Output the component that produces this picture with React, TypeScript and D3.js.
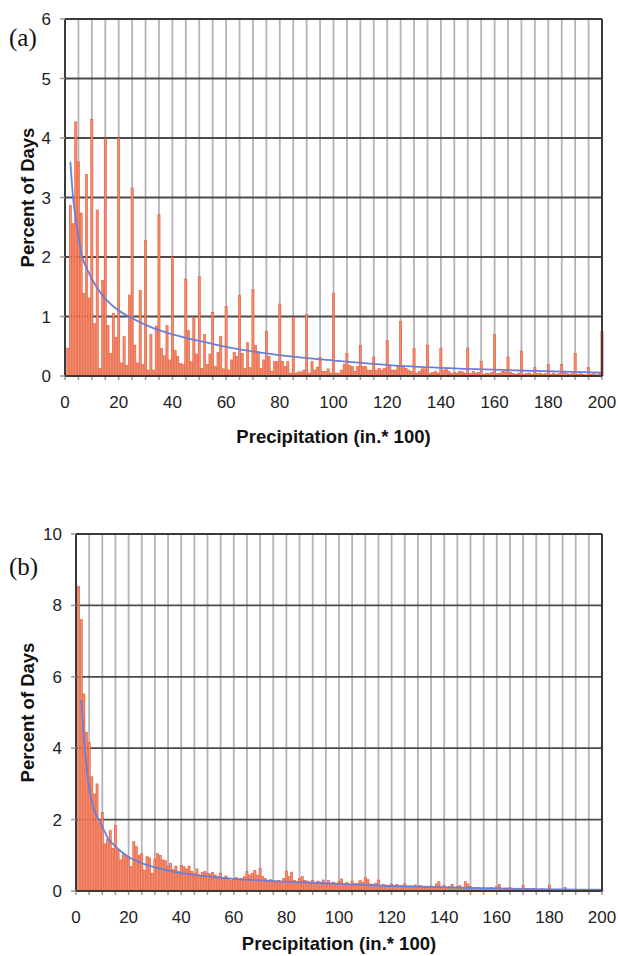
import React from 'react';
import * as d3 from 'd3';

// Precipitation amounts (in. * 100), categories 1..200
const amounts: number[] = d3.range(1, 201);

// Panel (a) percent of days per amount
const percentA: number[] = [
  0.47, 2.87, 2.56, 4.27, 3.6, 2.74, 1.39, 3.39, 1.31, 4.31,
  0.88, 2.79, 0.13, 1.61, 3.99, 0.85, 0.38, 1.05, 0.65, 4.0,
  0.22, 0.66, 0.18, 1.36, 3.16, 0.52, 0.22, 1.44, 0.19, 2.28,
  0.1, 0.7, 0.1, 0.84, 2.71, 0.46, 0.34, 0.85, 0.27, 2.0,
  0.43, 0.33, 0.21, 0.19, 1.63, 0.77, 0.24, 0.99, 0.37, 1.67,
  0.13, 0.7, 0.19, 0.37, 1.07, 0.16, 0.4, 0.66, 0.12, 1.17,
  0.1, 0.27, 0.4, 0.33, 1.35, 0.38, 0.13, 0.56, 0.14, 1.45,
  0.51, 0.41, 0.13, 0.27, 0.75, 0.33, 0.08, 0.24, 0.24, 1.21,
  0.24, 0.16, 0.24, 0.05, 0.99, 0.05, 0.07, 0.07, 0.1, 1.03,
  0.05, 0.24, 0.1, 0.15, 0.31, 0.08, 0.08, 0.12, 0.05, 1.39,
  0.05, 0.05, 0.1, 0.2, 0.38, 0.18, 0.16, 0.08, 0.16, 0.51,
  0.16, 0.16, 0.1, 0.1, 0.32, 0.1, 0.13, 0.1, 0.13, 0.6,
  0.16, 0.1, 0.1, 0.16, 0.92, 0.15, 0.13, 0.1, 0.08, 0.46,
  0.05, 0.08, 0.12, 0.12, 0.52, 0.04, 0.06, 0.08, 0.05, 0.47,
  0.1, 0.12, 0.08, 0.04, 0.06, 0.05, 0.08, 0.07, 0.05, 0.47,
  0.04, 0.08, 0.05, 0.06, 0.24, 0.03, 0.05, 0.04, 0.06, 0.7,
  0.04, 0.05, 0.08, 0.07, 0.32, 0.06, 0.04, 0.03, 0.05, 0.42,
  0.03, 0.04, 0.05, 0.03, 0.14, 0.04, 0.05, 0.03, 0.04, 0.19,
  0.03, 0.05, 0.03, 0.04, 0.19, 0.06, 0.04, 0.03, 0.05, 0.38,
  0.03, 0.04, 0.03, 0.02, 0.14, 0.03, 0.04, 0.02, 0.06, 0.75,
];

// Panel (b) percent of days per amount
const percentB: number[] = [
  8.54, 7.6, 5.52, 4.45, 4.17, 3.2, 2.72, 3.0, 1.9, 2.2,
  1.32, 1.45, 1.69, 1.2, 1.83, 1.15, 0.87, 1.06, 1.0, 0.96,
  0.68, 1.38, 1.24, 1.0, 1.04, 0.59, 0.96, 0.93, 0.5, 0.9,
  1.05, 1.0, 0.87, 0.85, 0.7, 0.78, 0.6, 0.7, 0.55, 0.72,
  0.68, 0.62, 0.7, 0.55, 0.5, 0.62, 0.45, 0.52, 0.55, 0.5,
  0.48, 0.52, 0.45, 0.4, 0.5, 0.38, 0.42, 0.35, 0.3, 0.33,
  0.38, 0.3, 0.35, 0.4, 0.54, 0.45, 0.5, 0.58, 0.45, 0.64,
  0.4, 0.35, 0.3, 0.32, 0.28, 0.25, 0.3, 0.28, 0.35, 0.56,
  0.4, 0.53, 0.3, 0.25, 0.35, 0.4, 0.3, 0.28, 0.25, 0.3,
  0.22, 0.28, 0.25, 0.31, 0.2, 0.3, 0.22, 0.25, 0.2, 0.27,
  0.34, 0.2, 0.24, 0.18, 0.28, 0.2, 0.22, 0.29, 0.25, 0.38,
  0.32, 0.2, 0.18, 0.22, 0.31, 0.15, 0.18, 0.12, 0.15, 0.2,
  0.14, 0.18, 0.12, 0.15, 0.2, 0.1, 0.14, 0.12, 0.17, 0.13,
  0.15, 0.1, 0.12, 0.1, 0.14, 0.12, 0.2, 0.26, 0.12, 0.15,
  0.1, 0.12, 0.19, 0.1, 0.12, 0.15, 0.1, 0.26, 0.2, 0.12,
  0.1, 0.08, 0.1, 0.07, 0.09, 0.06, 0.08, 0.1, 0.08, 0.12,
  0.19, 0.07, 0.06, 0.08, 0.1, 0.06, 0.05, 0.07, 0.06, 0.15,
  0.05, 0.06, 0.04, 0.07, 0.05, 0.04, 0.06, 0.05, 0.04, 0.17,
  0.04, 0.05, 0.03, 0.05, 0.04, 0.1, 0.03, 0.04, 0.03, 0.05,
  0.03, 0.04, 0.02, 0.03, 0.04, 0.02, 0.03, 0.02, 0.03, 0.03,
];

// Fitted curves (read at sample amounts)
const fitAx: number[] = [2, 3, 4, 5, 6, 8, 10, 12, 15, 20, 25, 30, 35, 40, 50, 60, 75, 90, 100, 125, 150, 175, 200];
const fitAy: number[] = [3.6, 3.0, 2.65, 2.35, 2.07, 1.82, 1.63, 1.48, 1.3, 1.1, 0.97, 0.86, 0.77, 0.7, 0.59, 0.49, 0.38, 0.3, 0.26, 0.17, 0.12, 0.085, 0.056];
const fitBx: number[] = [2, 3, 4, 5, 6, 7, 9, 10, 12, 15, 20, 25, 30, 40, 50, 60, 80, 100, 120, 150, 175, 200];
const fitBy: number[] = [5.35, 4.3, 3.5, 2.9, 2.5, 2.25, 1.95, 1.8, 1.5, 1.25, 0.95, 0.78, 0.66, 0.5, 0.41, 0.34, 0.26, 0.2, 0.14, 0.085, 0.055, 0.035];

const xTickLabels: number[] = [0, 20, 40, 60, 80, 100, 120, 140, 160, 180, 200];
const yTicksA: number[] = [0, 1, 2, 3, 4, 5, 6];
const yTicksB: number[] = [0, 2, 4, 6, 8, 10];

const FONT = "'Liberation Sans', Arial, Helvetica, sans-serif";

type PanelProps = {
  x0: number; x1: number; y0: number; y1: number;
  yTicks: number[]; values: number[]; fx: number[]; fy: number[];
  tag: string; tagY: number; titleOffset: number;
};

function Panel({ x0, x1, y0, y1, yTicks, values, fx, fy, tag, tagY, titleOffset }: PanelProps) {
  const yMax = yTicks[yTicks.length - 1];
  const x = d3.scaleLinear().domain([0, 200]).range([x0, x1]);
  const y = d3.scaleLinear().domain([0, yMax]).range([y1, y0]);
  const step = x(1) - x(0);
  const bw = step * 0.82;
  const vGrid = d3.range(5, 200, 5);
  const xMinor = d3.range(0, 205, 5);
  const line = d3.line<number>()
    .x((_, i) => x(fx[i]))
    .y((d) => y(d))
    .curve(d3.curveMonotoneX);
  const cxm = (x0 + x1) / 2;
  const cym = (y0 + y1) / 2;
  return (
    <g>
      {vGrid.map((v) => (
        <line key={'vg' + v} x1={x(v)} x2={x(v)} y1={y0} y2={y1} stroke="#b4b4b4" strokeWidth={1.8} />
      ))}
      {xMinor.map((v) => (
        <line key={'xt' + v} x1={x(v)} x2={x(v)} y1={y1} y2={y1 + 4} stroke="#9a9a9a" strokeWidth={1.5} />
      ))}
      {yTicks.filter((t) => t > 0).map((t) => (
        <line key={'hg' + t} x1={x0} x2={x1} y1={y(t)} y2={y(t)} stroke="#4a4a4a" strokeWidth={1.8} />
      ))}
      {amounts.map((a, i) => (
        <rect key={'b' + a} x={x(a) - bw / 2} y={y(values[i])} width={bw}
          height={Math.max(0, y(0) - y(values[i]))}
          fill="#f08d6d" stroke="#e8492b" strokeWidth={0.5} />
      ))}
      <path d={line(fy) || ''} fill="none" stroke="#6b7fd6" strokeWidth={1.8} />
      <line x1={x0} x2={x0} y1={y0} y2={y1} stroke="#3a3a3a" strokeWidth={2} />
      <line x1={x0} x2={x1} y1={y1} y2={y1} stroke="#3a3a3a" strokeWidth={2} />
      <line x1={x1} x2={x1} y1={y0} y2={y1} stroke="#3a3a3a" strokeWidth={2} />
      <line x1={x0} x2={x1} y1={y0} y2={y0} stroke="#3a3a3a" strokeWidth={2} />
      {yTicks.map((t) => (
        <g key={'yt' + t}>
          <line x1={x0 - 5} x2={x0} y1={y(t)} y2={y(t)} stroke="#9a9a9a" strokeWidth={1.5} />
          <text x={x0 - 14} y={y(t) + 6} textAnchor="end" fontFamily={FONT} fontSize={17} fill="#222">{t}</text>
        </g>
      ))}
      {xTickLabels.map((t) => (
        <text key={'xl' + t} x={x(t)} y={y1 + 32} textAnchor="middle" fontFamily={FONT} fontSize={17} fill="#222">{t}</text>
      ))}
      <text x={cxm} y={y1 + titleOffset} textAnchor="middle" fontFamily={FONT} fontSize={18.5} fontWeight="bold" fill="#111">
        Precipitation (in.* 100)
      </text>
      <text transform={`translate(34,${cym}) rotate(-90)`} textAnchor="middle" fontFamily={FONT} fontSize={18.5} fontWeight="bold" fill="#111">
        Percent of Days
      </text>
      <text x={9} y={tagY} fontFamily="'Liberation Serif', 'Times New Roman', serif" fontSize={25} fill="#111">{tag}</text>
    </g>
  );
}

export default function App() {
  return (
    <svg width={618} height={956} style={{ position: 'absolute', left: 0, top: 0, background: '#fff' }}>
      <rect x={0} y={0} width={618} height={956} fill="#fff" />
      <Panel x0={65} x1={602} y0={19} y1={376} yTicks={yTicksA} values={percentA} fx={fitAx} fy={fitAy} tag="(a)" tagY={46} titleOffset={67} />
      <Panel x0={76} x1={602} y0={534} y1={891} yTicks={yTicksB} values={percentB} fx={fitBx} fy={fitBy} tag="(b)" tagY={575} titleOffset={59} />
    </svg>
  );
}
